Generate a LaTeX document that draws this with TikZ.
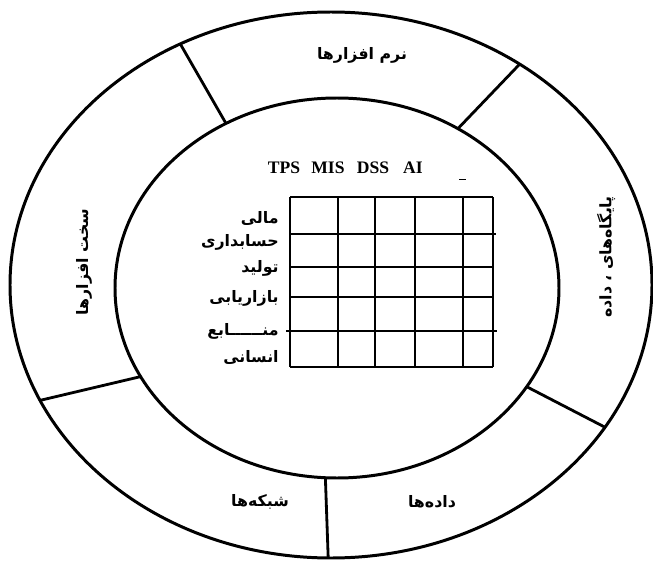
\documentclass[tikz,border=0pt]{standalone}
\usepackage{fontspec}
\setmainfont{Liberation Serif}
\newfontfamily\arabicfont[Script=Arabic]{DejaVu Sans}
\TeXXeTstate=1
\usetikzlibrary{calc}
\tikzset{
  ring/.style={line width=1.7pt},
  divider/.style={line width=1.6pt},
  gridline/.style={line width=1.1pt},
  falbl/.style={font=\arabicfont\bfseries\fontsize{9}{11}\selectfont, inner sep=0pt},
  hdr/.style={font=\bfseries\fontsize{10}{12}\selectfont, inner sep=0pt}
}

\begin{document}
\begin{tikzpicture}[x=0.02cm,y=-0.02cm]
  \useasboundingbox (0,0) rectangle (653,561);
  \coordinate (oc) at (331,285);
  \coordinate (ic) at (337,288);
  \draw[ring] (oc) ellipse [x radius=321, y radius=273];
  \draw[ring] (ic) ellipse [x radius=222, y radius=190];
  % spokes between the two rings
  \foreach \a/\b [count=\i] in {242/240,306/303,31.4/31.3,90.5/93,155/152.2}{
     \coordinate (out\i) at ({331+321*cos(\a)},{285+273*sin(\a)});
     \coordinate (in\i) at ({337+222*cos(\b)},{288+190*sin(\b)});
     \draw[divider] (in\i) -- (out\i);}
  % ring labels
  \node[falbl] (software) at (362,55) {\beginR نرم افزارها\endR};
  \node[falbl,rotate=90] (hardware) at (84,262) {\beginR سخت افزارها\endR};
  \node[falbl,rotate=90] (databases) at (606,257) {\beginR پایگاه‌های ، داده\endR};
  \node[falbl] (networks) at (260,502) {\beginR شبکه‌ها\endR};
  \node[falbl] (data) at (432,502) {\beginR داده‌ها\endR};
  % system types
  \foreach \x/\lab in {284/TPS,328/MIS,373/DSS,413/AI}{
     \node[hdr] (h\lab) at (\x,168) {\lab};}
  \draw[line width=0.5pt] (459,179) -- (466,179);
  % matrix
  \foreach \x in {290,338,375,415,463,493}{\draw[gridline] (\x,197) -- (\x,367);}
  \foreach \y in {197,267,297,367}{\draw[gridline] (290,\y) -- (493,\y);}
  \draw[gridline] (290,234) -- (496,234);
  \draw[gridline] (286,331) -- (497,331);
  \foreach \y/\lab [count=\i] in {218/مالی,242/حسابداری,268/تولید,298/بازاریابی,331/منــــــابع,357/انسانی}{
     \node[falbl,anchor=east] (row\i) at (279,\y) {\beginR\lab\endR};}
\end{tikzpicture}
\end{document}
